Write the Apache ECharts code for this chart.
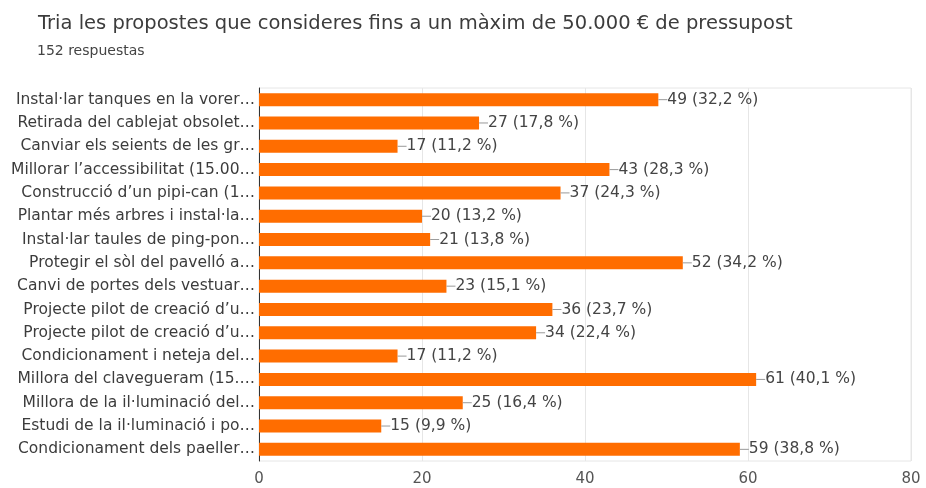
<!DOCTYPE html>
<html>
<head>
<meta charset="utf-8">
<script src="https://cdn.jsdelivr.net/npm/echarts@6/dist/echarts.min.js"></script>
<style>
  html, body { margin: 0; padding: 0; background: #fff; }
  #main { width: 926px; height: 488px; }
</style>
</head>
<body>
<div id="main"></div>
<script>
var categories = [
    'Instal·lar tanques en la vorer…',
    'Retirada del cablejat obsolet…',
    'Canviar els seients de les gr…',
    'Millorar l’accessibilitat (15.00…',
    'Construcció d’un pipi-can (1…',
    'Plantar més arbres i instal·la…',
    'Instal·lar taules de ping-pon…',
    'Protegir el sòl del pavelló a…',
    'Canvi de portes dels vestuar…',
    'Projecte pilot de creació d’u…',
    'Projecte pilot de creació d’u…',
    'Condicionament i neteja del…',
    'Millora del clavegueram (15.…',
    'Millora de la il·luminació del…',
    'Estudi de la il·luminació i po…',
    'Condicionament dels paeller…'
];
var counts = [49, 27, 17, 43, 37, 20, 21, 52, 23, 36, 34, 17, 61, 25, 15, 59];
var percents = ['32,2', '17,8', '11,2', '28,3', '24,3', '13,2', '13,8', '34,2',
    '15,1', '23,7', '22,4', '11,2', '40,1', '16,4', '9,9', '38,8'];
var xTicks = [0, 20, 40, 60, 80];

var myChart = echarts.init(document.getElementById('main'));
var font = 'DejaVu Sans';
var option = {
    animation: false,
    title: [{
        text: 'Tria les propostes que consideres fins a un màxim de 50.000 € de pressupost',
        left: 33,
        top: 9,
        textStyle: {fontFamily: font, fontSize: 19.5, fontWeight: 'normal', color: '#3c3c3c'}
    }, {
        text: '152 respuestas',
        left: 32,
        top: 39,
        textStyle: {fontFamily: font, fontSize: 14, fontWeight: 'normal', color: '#444'}
    }],
    grid: {
        left: 259,
        right: 15,
        top: 88,
        bottom: 27,
        show: true,
        borderColor: '#e6e6e6',
        borderWidth: 1
    },
    xAxis: {
        type: 'value',
        min: xTicks[0],
        max: xTicks[xTicks.length - 1],
        interval: 20,
        axisLine: {show: false},
        axisTick: {show: false},
        splitLine: {lineStyle: {color: '#e6e6e6'}},
        axisLabel: {
            fontFamily: font, fontSize: 15, color: '#555', margin: 11,
            formatter: function (v) { return xTicks.indexOf(v) >= 0 ? String(v) : ''; }
        }
    },
    yAxis: {
        type: 'category',
        inverse: true,
        data: categories,
        axisLine: {show: true, lineStyle: {color: '#333', width: 1}},
        axisTick: {show: false},
        axisLabel: {fontFamily: font, fontSize: 15.5, color: '#3c3c3c', margin: 4}
    },
    series: [{
        type: 'bar',
        data: counts,
        barWidth: 13,
        itemStyle: {color: '#ff6d00'},
        label: {
            show: true,
            position: 'right',
            distance: 0,
            fontFamily: font,
            fontSize: 15.5,
            color: '#444',
            formatter: function (p) {
                return '{l|}' + p.value + ' (' + percents[p.dataIndex] + ' %)';
            },
            rich: {
                l: {width: 9, height: 1, backgroundColor: '#999', padding: 0}
            }
        }
    }]
};
myChart.setOption(option);
</script>
</body>
</html>
